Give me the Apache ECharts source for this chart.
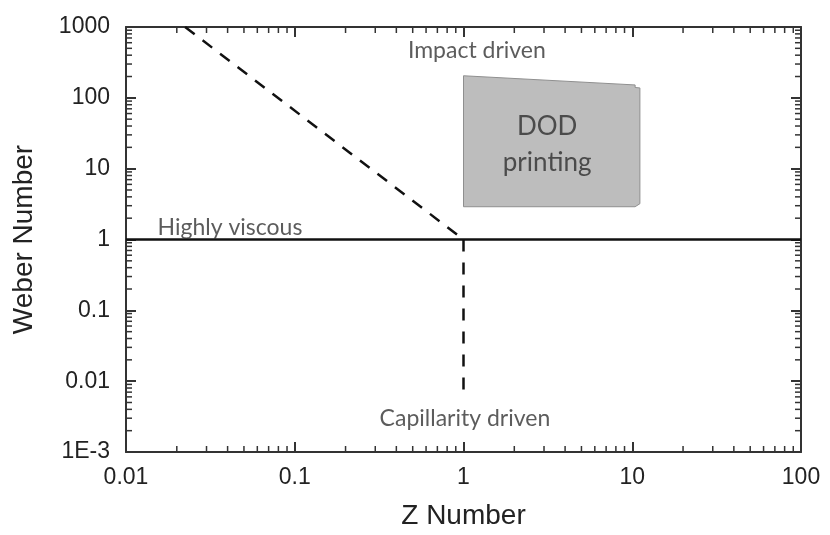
<!DOCTYPE html>
<html>
<head>
<meta charset="utf-8">
<script src="https://cdn.jsdelivr.net/npm/echarts@6/dist/echarts.min.js"></script>
<style>
  html, body { margin: 0; padding: 0; background: #fff; }
  #chart { width: 830px; height: 535px; }
</style>
</head>
<body>
<div id="chart"></div>
<script>
// axis ranges (log10)
const xRange = [0.01, 100]
const yRange = [0.001, 1000]

// dashed boundary lines
const slopeLine = [[0.0224, 1000], [1, 1]]
const capLine = [[1, 1], [1, 0.0066]]
// solid line We = 1
const viscLine = [[0.01, 1], [100, 1]]

// DOD printing region corners
const dodX = [1, 10.4, 10.4, 11.1, 11.1, 10.4, 1]
const dodY = [205, 152, 140, 138, 3.2, 2.9, 2.9]

// annotations
const notes = [
  { name: 'Impact driven', value: [1.2, 459] },
  { name: 'Highly viscous', value: [0.0413, 1.48] },
  { name: 'Capillarity driven', value: [1.02, 0.00292] }
]
const dodNote = [{ name: 'DOD\nprinting', value: [3.13, 21.8] }]

// minor tick values (2..9 per decade)
const minorTicks = (lo, hi) => {
  const out = []
  for (let e = Math.round(Math.log10(lo)); e < Math.round(Math.log10(hi)); e++) {
    for (let k = 2; k <= 9; k++) out.push(k * Math.pow(10, e))
  }
  return out
}
const xMinor = minorTicks(xRange[0], xRange[1])
const yMinor = minorTicks(yRange[0], yRange[1])

const fmt = (v) => {
  const e = Math.round(Math.log10(v))
  if (e >= 0) return String(Math.pow(10, e))
  if (e >= -2) return Math.pow(10, e).toFixed(-e)
  return '1E' + e
}

const axisColor = '#333'
const tickFont = { fontFamily: 'Liberation Sans, Arial, sans-serif', fontSize: 23, color: '#222' }
const noteFont = 'Lato, Open Sans, sans-serif'

const chart = echarts.init(document.getElementById('chart'))

const baseX = {
  type: 'log',
  min: xRange[0],
  max: xRange[1],
  splitNumber: 4,
  axisLine: { show: true, onZero: false, lineStyle: { color: axisColor, width: 2 } },
  axisTick: { inside: true, length: 10, lineStyle: { color: axisColor, width: 2 } },
  splitLine: { show: false }
}
const baseY = {
  type: 'log',
  min: yRange[0],
  max: yRange[1],
  splitNumber: 6,
  axisLine: { show: true, onZero: false, lineStyle: { color: axisColor, width: 2 } },
  axisTick: { inside: true, length: 10, lineStyle: { color: axisColor, width: 2 } },
  splitLine: { show: false }
}

const option = {
  animation: false,
  grid: { left: 126, right: 29, top: 27, bottom: 83, outerBoundsMode: 'none', containLabel: false },
  xAxis: [
    Object.assign({}, baseX, {
      position: 'bottom',
      name: 'Z Number',
      nameLocation: 'middle',
      nameGap: 50,
      nameTextStyle: { fontFamily: 'Liberation Sans, Arial, sans-serif', fontSize: 28, color: '#222' },
      axisLabel: Object.assign({ margin: 14, formatter: fmt }, tickFont)
    }),
    Object.assign({}, baseX, { position: 'top', axisLabel: { show: false } })
  ],
  yAxis: [
    Object.assign({}, baseY, {
      position: 'left',
      name: 'Weber Number',
      nameLocation: 'middle',
      nameGap: 88,
      nameTextStyle: { fontFamily: 'Liberation Sans, Arial, sans-serif', fontSize: 28, color: '#222' },
      axisLabel: Object.assign({ margin: 16, formatter: fmt }, tickFont)
    }),
    Object.assign({}, baseY, { position: 'right', axisLabel: { show: false } })
  ],
  series: [
    {
      type: 'custom',
      name: 'DOD',
      clip: false,
      data: dodX.map((x, i) => [x, dodY[i]]),
      renderItem: (params, api) => {
        if (params.dataIndex !== 0) return null
        const pts = dodX.map((x, i) => api.coord([x, dodY[i]]))
        return {
          type: 'polygon',
          shape: { points: pts },
          style: { fill: '#bdbdbd', stroke: '#8f8f8f', lineWidth: 1 }
        }
      },
      z: 1
    },
    {
      type: 'line',
      data: slopeLine,
      symbol: 'none',
      lineStyle: { color: '#111', width: 2.5, type: [12, 10] },
      z: 3
    },
    {
      type: 'line',
      data: capLine,
      symbol: 'none',
      lineStyle: { color: '#111', width: 2.5, type: [12, 11] },
      z: 3
    },
    {
      type: 'line',
      data: viscLine,
      symbol: 'none',
      lineStyle: { color: '#111', width: 2.5 },
      z: 3
    },
    {
      type: 'custom',
      name: 'xMinor',
      clip: false,
      data: xMinor.map(v => [v, yRange[0]]),
      renderItem: (params, api) => {
        const v = api.value(0)
        const b = api.coord([v, yRange[0]])
        const t = api.coord([v, yRange[1]])
        const ls = { stroke: axisColor, lineWidth: 1.5 }
        return {
          type: 'group',
          children: [
            { type: 'line', shape: { x1: b[0], y1: b[1], x2: b[0], y2: b[1] - 6 }, style: ls },
            { type: 'line', shape: { x1: t[0], y1: t[1], x2: t[0], y2: t[1] + 6 }, style: ls }
          ]
        }
      },
      z: 4
    },
    {
      type: 'custom',
      name: 'yMinor',
      clip: false,
      data: yMinor.map(v => [xRange[0], v]),
      renderItem: (params, api) => {
        const v = api.value(1)
        const l = api.coord([xRange[0], v])
        const r = api.coord([xRange[1], v])
        const ls = { stroke: axisColor, lineWidth: 1.5 }
        return {
          type: 'group',
          children: [
            { type: 'line', shape: { x1: l[0], y1: l[1], x2: l[0] + 6, y2: l[1] }, style: ls },
            { type: 'line', shape: { x1: r[0], y1: r[1], x2: r[0] - 6, y2: r[1] }, style: ls }
          ]
        }
      },
      z: 4
    },
    {
      type: 'scatter',
      data: notes,
      symbolSize: 0,
      label: {
        show: true,
        position: 'inside',
        formatter: '{b}',
        fontFamily: noteFont,
        fontSize: 23,
        color: '#333'
      },
      z: 5
    },
    {
      type: 'scatter',
      data: dodNote,
      symbolSize: 0,
      label: {
        show: true,
        position: 'inside',
        formatter: '{b}',
        fontFamily: noteFont,
        fontSize: 26,
        lineHeight: 36,
        align: 'center',
        color: '#2e2e2e'
      },
      z: 5
    }
  ]
}

chart.setOption(option)
</script>
</body>
</html>
